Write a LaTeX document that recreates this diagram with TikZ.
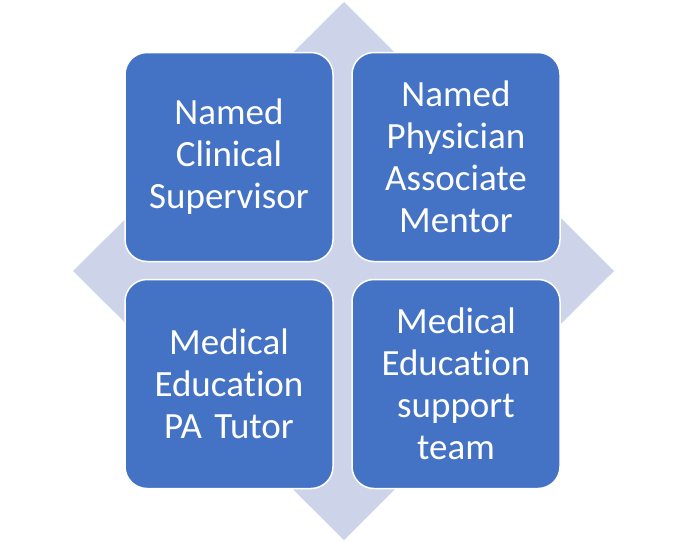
\documentclass[tikz,border=0pt]{standalone}
\usepackage{fontspec}
\setmainfont[Ligatures=NoCommon]{Carlito}
\usetikzlibrary{positioning}
\definecolor{boxblue}{HTML}{4472C4}
\definecolor{diamondblue}{HTML}{CDD4EA}
\tikzset{
  rolebox/.style={draw=white,line width=1.5pt,fill=boxblue,rounded corners=22pt,
    minimum width=208pt,minimum height=209pt,text width=190pt,align=center,
    text=white,font=\fontsize{37}{42}\selectfont},
}
\begin{document}
\begin{tikzpicture}[x=1pt,y=-1pt]
\useasboundingbox (0,0) rectangle (687,541);

\fill[color=diamondblue] (344,2)--(614,271)--(344,540)--(73,271)--cycle;

\node[rolebox] (supervisor) at (229,157) {Named\\Clinical\\Supervisor};
\node[rolebox] (mentor) at (456,157) {Named\\Physician\\Associate\\Mentor};
\node[rolebox] (tutor) at (229,384) {Medical\\Education\\PA Tutor};
\node[rolebox] (team) at (456,384) {Medical\\Education\\support\\team};

\end{tikzpicture}
\end{document}
